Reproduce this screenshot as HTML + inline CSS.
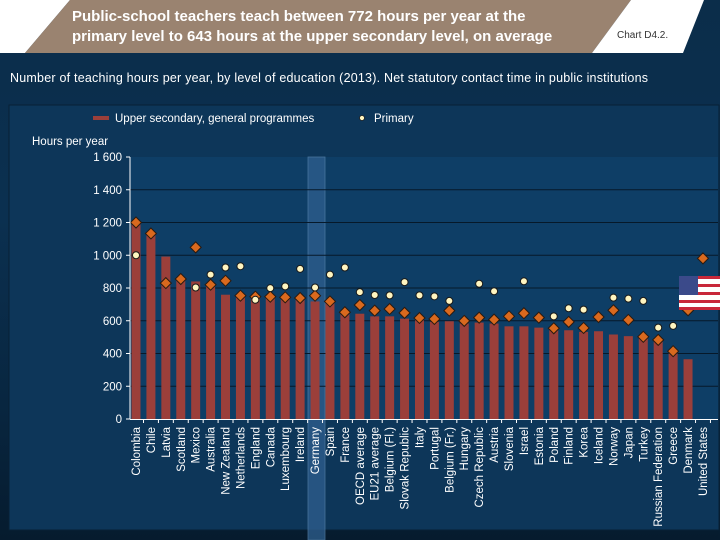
<!DOCTYPE html>
<html><head><meta charset="utf-8"><style>
html,body{margin:0;padding:0;width:720px;height:540px;overflow:hidden;background:#082238;font-family:"Liberation Sans",sans-serif}
#root{position:relative;width:720px;height:540px;background:linear-gradient(180deg,#0b2d4a 0%,#0b3050 40%,#082640 75%,#061b2e 100%)}
svg text{font-family:"Liberation Sans",sans-serif}
</style></head><body>
<div id="root">
<svg id="svg" width="720" height="540" xmlns="http://www.w3.org/2000/svg">
  <polygon points="0,0 70,0 25,53 0,53" fill="#ffffff"/>
  <polygon points="70,0 631,0 592,53 25,53" fill="#9a8370"/>
  <polygon points="631,0 704,0 683,53 592,53" fill="#ffffff"/>
  <text x="72" y="21" font-size="15" font-weight="bold" fill="#ffffff">Public-school teachers teach between 772 hours per year at the</text>
  <text x="72" y="41" font-size="15" font-weight="bold" fill="#ffffff">primary level to 643 hours at the upper secondary level, on average</text>
  <text x="617" y="38" font-size="10" fill="#333">Chart D4.2.</text>
  <text x="10" y="82" font-size="12.5" fill="#ffffff" textLength="638" lengthAdjust="spacing">Number of teaching hours per year, by level of education (2013). Net statutory contact time in public institutions</text>
  <rect x="9" y="105" width="710" height="425" fill="#0d3659" stroke="#082035" stroke-width="1"/>
  <rect x="93" y="116" width="16" height="4" fill="#9b3f3a"/>
  <text x="115" y="122" font-size="11.5" fill="#ffffff">Upper secondary, general programmes</text>
  <circle cx="362" cy="118" r="2.5" fill="#fff5c0" stroke="#222" stroke-width="0.8"/>
  <text x="374" y="122" font-size="11.5" fill="#ffffff">Primary</text>
  <text x="32" y="145" font-size="11.5" fill="#ffffff">Hours per year</text>
  <rect x="130" y="157" width="588" height="262" fill="#0e3e66"/>
  <rect x="308" y="157" width="17" height="383" fill="#2f5f8f" opacity="0.75" stroke="#5a86b0" stroke-width="0.8"/>
  <g id="grid"></g><g id="bars"></g><g id="marks"></g><g id="xlabels"></g><g id="yticks"></g>
  <g>
    <rect x="679" y="276" width="41" height="34" fill="#ffffff"/>
    <rect x="679" y="276" width="41" height="3" fill="#c8283a"/>
    <rect x="679" y="284" width="41" height="3" fill="#c8283a"/>
    <rect x="679" y="292" width="41" height="3" fill="#c8283a"/>
    <rect x="679" y="300" width="41" height="3" fill="#c8283a"/>
    <rect x="679" y="307" width="41" height="3" fill="#c8283a"/>
    <rect x="679" y="276" width="19" height="19" fill="#3b4a8a"/>
  </g>
</svg>
</div>
<script>
const categories=["Colombia","Chile","Latvia","Scotland","Mexico","Australia","New Zealand","Netherlands","England","Canada","Luxembourg","Ireland","Germany","Spain","France","OECD average","EU21 average","Belgium (Fl.)","Slovak Republic","Italy","Portugal","Belgium (Fr.)","Hungary","Czech Republic","Austria","Slovenia","Israel","Estonia","Poland","Finland","Korea","Iceland","Norway","Japan","Turkey","Russian Federation","Greece","Denmark","United States"];
const upperSecondary=[1200,1133,992,855,840,820,759,749,739,745,743,739,718,718,648,643,627,627,613,603,593,597,583,589,583,566,566,558,542,542,532,536,516,506,491,481,400,365,null];
const lowerSecondary=[1200,1133,830,855,1048,820,844,753,747,747,743,739,753,718,652,696,662,672,648,617,611,662,599,619,607,627,646,619,554,593,556,623,664,605,502,483,414,664,981];
const primary=[1000,null,null,null,803,882,925,933,728,799,810,917,803,882,925,775,757,755,836,755,749,721,null,826,780,null,841,null,627,676,668,null,741,735,721,558,569,null,null];
const yTicks=[0,200,400,600,800,1000,1200,1400,1600];
const yTickLabels=["0","200","400","600","800","1 000","1 200","1 400","1 600"];
const NS="http://www.w3.org/2000/svg";
const y0=419,yTop=157,yMax=1600,xL=130;
function y(v){return y0-(v/yMax)*(y0-yTop);}
function x(i){return 136+i*14.92;}
function mk(tag,attrs,parent){const e=document.createElementNS(NS,tag);for(const k in attrs)e.setAttribute(k,attrs[k]);document.getElementById(parent).appendChild(e);return e;}
yTicks.forEach((t,i)=>{
  if(t>0&&t<1600){const g=mk('line',{x1:xL,x2:718,y1:y(t),y2:y(t),stroke:'#06192a','stroke-width':1},'grid');
  
  }
  const tk=mk('line',{x1:xL-4,x2:xL,y1:y(t),y2:y(t),stroke:'#fff','stroke-width':1},'yticks');
  
  
  const tx=mk('text',{x:xL-8,y:y(t)+4,'font-size':11.5,fill:'#fff','text-anchor':'end'},'yticks');
  tx.textContent=yTickLabels[i];
  
  
});
const ax=mk('line',{x1:xL,x2:xL,y1:yTop,y2:y0,stroke:'#fff','stroke-width':1},'yticks');


const xa=mk('line',{x1:xL,x2:718,y1:y0+0.5,y2:y0+0.5,stroke:'#fff','stroke-width':1},'yticks');


categories.forEach((c,i)=>{
  const cx=x(i);
  if(upperSecondary[i]!=null){const b=mk('rect',{x:cx-4.5,y:y(upperSecondary[i]),width:9,height:y0-y(upperSecondary[i]),fill:'#9b3f3a'},'bars');
  
  }
  const tk=mk('line',{x1:cx+7.5,x2:cx+7.5,y1:y0,y2:y0+4,stroke:'#fff','stroke-width':1},'xlabels');
  
  
  const t=mk('text',{x:0,y:0,'font-size':11.5,fill:'#fff','text-anchor':'end',transform:`translate(${cx+4},${y0+8}) rotate(-90)`},'xlabels');
  t.textContent=c;
  
  
  if(lowerSecondary[i]!=null){const v=y(lowerSecondary[i]);const d=mk('polygon',{points:`${cx},${v-5.5} ${cx+5.5},${v} ${cx},${v+5.5} ${cx-5.5},${v}`,fill:'#d9691e',stroke:'#2a1a10','stroke-width':1},'marks');
  
  }
  if(primary[i]!=null){const p=mk('circle',{cx:cx,cy:y(primary[i]),r:3.5,fill:'#fff5c0',stroke:'#1a1a1a','stroke-width':1},'marks');
  
  }
});
</script>
</body></html>
